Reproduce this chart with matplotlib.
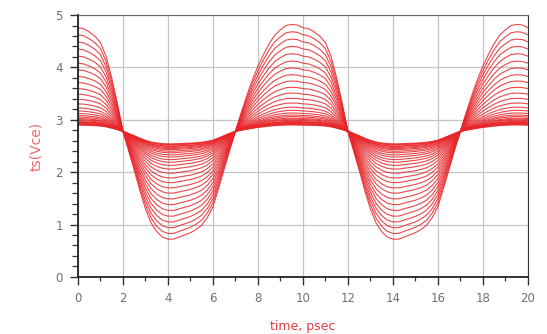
import matplotlib.pyplot as plt
from matplotlib.ticker import MultipleLocator
import numpy as np

# one period (10 psec) of the normalised swing, sampled every 0.25 psec
period_ps = 10.0
shape_t = np.arange(0, 10.01, 0.25)
shape = [0.97, 0.96, 0.93, 0.89, 0.83, 0.70, 0.50, 0.26, 0.00, -0.18,
         -0.36, -0.55, -0.72, -0.85, -0.93, -0.98, -1.00, -1.00, -0.98, -0.96,
         -0.94, -0.91, -0.87, -0.80, -0.70, -0.53, -0.35, -0.17, 0.00, 0.17,
         0.33, 0.48, 0.61, 0.72, 0.82, 0.90, 0.95, 0.99, 1.00, 0.995, 0.97]

# crossing level and per-sweep peak / trough of ts(Vce)
v_cross = 2.78
peaks = [4.82, 4.68, 4.54, 4.40, 4.26, 4.12, 3.99, 3.86, 3.74, 3.62, 3.51, 3.41,
         3.32, 3.24, 3.18, 3.13, 3.09, 3.06, 3.03, 3.01, 2.99, 2.97, 2.96, 2.95,
         2.94, 2.93, 2.92, 2.91, 2.90]
troughs = [0.72, 0.83, 0.94, 1.05, 1.16, 1.27, 1.38, 1.49, 1.60, 1.70, 1.80, 1.89,
           1.98, 2.06, 2.13, 2.19, 2.24, 2.29, 2.33, 2.37, 2.40, 2.43, 2.45, 2.47,
           2.49, 2.50, 2.52, 2.53, 2.54]

# two periods: 0..20 psec
t = np.concatenate([shape_t, shape_t[1:] + period_ps])
s = np.array(shape + shape[1:])

fig = plt.figure(figsize=(5.47, 3.34), dpi=100)
ax = fig.add_axes([0.1426, 0.171, 0.8224, 0.784])

red = "#e8262a"
for hi, lo in zip(peaks, troughs):
    v = np.where(s >= 0, v_cross + s * (hi - v_cross), v_cross + s * (v_cross - lo))
    ax.plot(t, v, color=red, lw=0.8, alpha=0.85)

ax.set_xlim(0, 20)
ax.set_ylim(0, 5)
ax.xaxis.set_major_locator(MultipleLocator(2))
ax.xaxis.set_minor_locator(MultipleLocator(1))
ax.yaxis.set_major_locator(MultipleLocator(1))
ax.yaxis.set_minor_locator(MultipleLocator(0.2))
ax.grid(True, which="major", color="#c4c4c4", lw=0.9)
ax.set_axisbelow(True)

ax.tick_params(which="major", direction="out", length=6, width=1.0, color="#333333",
               labelsize=8.5, labelcolor="#707070", pad=5)
ax.tick_params(axis="y", which="minor", direction="out", length=4, width=0.9, color="#333333")
ax.tick_params(axis="x", which="minor", direction="out", length=3, width=0.9, color="#333333")

for side in ["left", "bottom"]:
    ax.spines[side].set_linewidth(1.3)
    ax.spines[side].set_color("#222222")
ax.spines["top"].set_color("#666666")
ax.spines["right"].set_color("#333333")

ax.set_xlabel("time, psec", color="#e03a3e", fontsize=9, labelpad=11)
ax.set_ylabel("ts(Vce)", color="#ec6a6e", fontsize=10, labelpad=9)

plt.savefig("out.png", dpi=100)
